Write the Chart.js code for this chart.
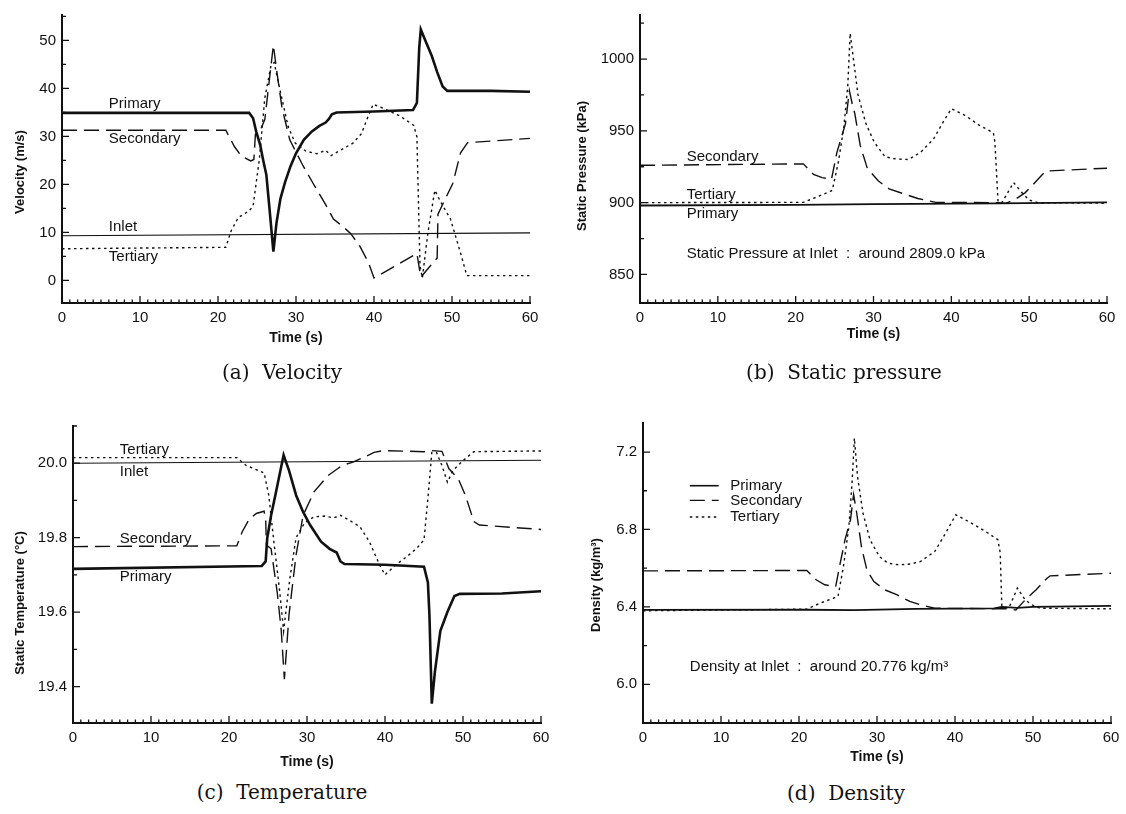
<!DOCTYPE html>
<html>
<head>
<meta charset="utf-8">
<script src="https://cdn.jsdelivr.net/npm/chart.js@4.4.0/dist/chart.umd.min.js"></script>
<style>
	body { margin: 0; background: #fff; width: 1126px; height: 814px; position: relative; overflow: hidden; }
	.panel { position: absolute; width: 563px; height: 380px; }
	.caption { position: absolute; font-family: 'DejaVu Serif', serif; font-size: 20px; color: #111; transform: translate(-50%, -50%); white-space: pre; }
</style>
</head>
<body>
<div class="panel" style="left:0;top:0"><canvas id="velocity"></canvas></div>
<div class="panel" style="left:563px;top:0"><canvas id="pressure"></canvas></div>
<div class="panel" style="left:0;top:395px"><canvas id="temperature"></canvas></div>
<div class="panel" style="left:563px;top:395px"><canvas id="density"></canvas></div>
<div class="caption" style="left:282px;top:372px">(a)  Velocity</div>
<div class="caption" style="left:844px;top:372px">(b)  Static pressure</div>
<div class="caption" style="left:282px;top:792px">(c)  Temperature</div>
<div class="caption" style="left:846px;top:793px">(d)  Density</div>
<script>
// tick labels
const timeTicks = [0, 10, 20, 30, 40, 50, 60];
const velocityTicks = [0, 10, 20, 30, 40, 50];
const pressureTicks = [850, 900, 950, 1000];
const temperatureTicks = [19.4, 19.6, 19.8, 20.0];
const densityTicks = [6.0, 6.4, 6.8, 7.2];

// [time (s), value] pairs
const velocityPrimary = [[0,34.9],[24,34.9],[24.5,33.8],[24.9,31],[25.4,28.3],[25.8,25],[26.2,22],[26.6,15],[27.1,6],[27.5,12],[28,17],[28.6,20.5],[29.3,23.8],[30,26.5],[31,29.3],[32,31],[33,32.2],[33.8,32.9],[34.2,33.6],[34.6,34.6],[35.2,35],[40,35.2],[45,35.5],[45.5,37],[45.8,48.5],[46,52.3],[46.7,49.5],[47.4,46.8],[48.1,43.4],[48.8,40.4],[49.4,39.5],[55,39.5],[60,39.3]];
const velocitySecondary = [[0,31.3],[21,31.3],[22.1,27.9],[23,25.9],[24.2,24.9],[24.6,25.2],[24.8,30.5],[25.4,31.2],[26,33.5],[26.6,42],[27.1,49],[27.5,44],[28.2,36],[29.2,29.3],[30.9,23.9],[32.2,20.2],[33.8,15.8],[34.8,12.8],[36.1,11.1],[37,9.8],[38.2,7.1],[39.3,3.7],[40,0.5],[45.5,5.6],[46,0.7],[48.1,4.7],[48.2,13.8],[49.2,17.2],[50.1,20.2],[51.1,26.6],[52,28.7],[60,29.6]];
const velocityTertiary = [[0,6.6],[21,6.9],[21.7,10.4],[22.6,13.1],[24,14.5],[24.5,15.5],[25.3,25.2],[26,38],[26.8,44.8],[27.2,45.4],[27.9,40],[29,32],[29.9,28.6],[31.3,26.9],[32.7,26.4],[33.8,27.1],[34.5,26],[35.9,27.3],[37.3,28.6],[38.4,30.6],[39.1,33.6],[39.9,36.7],[41.4,35.7],[43.3,34.3],[45.1,32.3],[45.5,29.9],[45.9,3],[46.2,0.5],[46.9,9.8],[47.8,18.8],[48.5,16.5],[49.8,12.8],[51.1,5.7],[51.9,1],[60,1]];
const velocityInlet = [[0,9.3],[60,9.9]];

const pressurePrimary = [[0,898],[20,898.5],[30,899],[46,899.5],[60,900.2]];
const pressureSecondary = [[0,926],[21,927],[22.3,919.6],[23.4,917.4],[24.6,916.3],[25.3,935],[26.4,955],[26.9,978],[27.3,968],[27.6,962],[28.3,939.7],[29.2,924],[30.6,915.2],[32,909.6],[33.8,906.3],[35.7,902.9],[38,900.2],[46,900],[47,899.5],[48.4,903],[49.5,907],[50.4,912],[52.1,922],[60,924]];
const pressureTertiary = [[0,900],[21,900.2],[23.2,905],[24.7,908.5],[25.5,928.6],[26.2,953],[26.7,982],[27,1018],[27.4,1001],[28,975.4],[29,955.4],[30.1,942],[31.5,931.9],[32.9,930.4],[34.5,930],[36.1,935.3],[37.7,944.2],[39.1,957.6],[40,965.4],[41.7,961],[43.5,954.2],[45.4,948.7],[45.6,942],[46,900.7],[46.5,900],[48,914],[49,907.4],[50,901.8],[51.1,900],[60,899.6]];

const temperaturePrimary = [[0,19.716],[24.2,19.724],[24.7,19.736],[24.9,19.798],[25.4,19.86],[26.1,19.93],[27,20.022],[27.7,19.98],[28.6,19.914],[29.5,19.869],[30.4,19.834],[31.8,19.789],[32.9,19.77],[33.8,19.76],[34.3,19.736],[34.8,19.729],[40,19.727],[45,19.722],[45.5,19.68],[45.7,19.59],[46,19.354],[46.4,19.44],[47.1,19.55],[48,19.6],[48.9,19.643],[49.6,19.649],[55,19.65],[60,19.656]];
const temperatureSecondary = [[0,19.776],[21,19.778],[21.7,19.816],[22.6,19.85],[23.5,19.865],[24.5,19.871],[24.7,19.85],[24.8,19.78],[25.4,19.77],[26.2,19.65],[26.7,19.55],[27.1,19.42],[27.7,19.594],[28.6,19.754],[29.5,19.86],[30.9,19.923],[32.7,19.967],[34.5,19.994],[35.9,20.003],[37.3,20.016],[38.6,20.029],[39.8,20.034],[45,20.031],[46,20.034],[47.3,20.032],[48.2,19.985],[49.4,19.958],[50.3,19.914],[51.4,19.843],[52.1,19.834],[60,19.822]];
const temperatureTertiary = [[0,20.015],[21,20.015],[22.2,19.994],[24.5,19.974],[25.1,19.914],[25.8,19.78],[26.5,19.656],[27,19.549],[27.2,19.585],[27.8,19.69],[28.6,19.8],[29.7,19.84],[30.9,19.856],[32.2,19.858],[33.4,19.853],[34.3,19.86],[35.4,19.847],[36.8,19.829],[38,19.789],[39.3,19.727],[40,19.7],[41.4,19.727],[42.8,19.749],[44.1,19.772],[45,19.794],[45.5,19.905],[46,20.029],[46.6,20.029],[47.3,19.994],[48,19.949],[48.7,19.98],[50,20.007],[51.4,20.031],[60,20.033]];
const temperatureInlet = [[0,20.0],[60,20.008]];

const densityPrimary = [[0,6.384],[21,6.385],[27,6.383],[35,6.39],[45,6.392],[46,6.4],[48,6.395],[50,6.4],[60,6.405]];
const densitySecondary = [[0,6.586],[21,6.588],[22.2,6.54],[23.3,6.514],[24.7,6.505],[25.2,6.609],[25.9,6.747],[26.6,6.85],[27,6.98],[27.4,6.885],[28,6.712],[28.7,6.591],[29.6,6.531],[31,6.488],[32.6,6.462],[34.2,6.428],[35.6,6.41],[37.4,6.393],[46.7,6.39],[47.8,6.384],[49,6.436],[50.4,6.488],[51.8,6.548],[52.2,6.56],[60,6.574]];
const densityTertiary = [[0,6.38],[21,6.388],[22.7,6.419],[25,6.454],[25.7,6.609],[26.4,6.816],[26.8,7.04],[27.1,7.272],[27.5,7.074],[28.2,6.885],[29.1,6.747],[30.3,6.66],[31.4,6.626],[32.8,6.617],[34.4,6.622],[35.6,6.635],[37.4,6.686],[38.8,6.781],[40.1,6.876],[42.1,6.833],[43.9,6.79],[45.5,6.747],[45.8,6.678],[46,6.405],[46.9,6.393],[48,6.497],[49,6.436],[49.9,6.41],[50.9,6.393],[60,6.39]];

Chart.defaults.font.family = "'Liberation Sans', Arial, sans-serif";
Chart.defaults.color = '#111';

const INK = '#111';

function primary(points, width) {
	return { label: 'Primary', data: points.map(p => ({x: p[0], y: p[1]})), borderColor: INK, borderWidth: width, borderDash: [] };
}
function secondary(points) {
	return { label: 'Secondary', data: points.map(p => ({x: p[0], y: p[1]})), borderColor: INK, borderWidth: 1.4, borderDash: [15, 7] };
}
function tertiary(points) {
	return { label: 'Tertiary', data: points.map(p => ({x: p[0], y: p[1]})), borderColor: INK, borderWidth: 1.4, borderDash: [2.5, 3.5] };
}
function inlet(points) {
	return { label: 'Inlet', data: points.map(p => ({x: p[0], y: p[1]})), borderColor: INK, borderWidth: 1.1, borderDash: [] };
}

// axis ticks pointing into the plot, axis titles, curve labels, notes and the legend
const decorations = {
	id: 'decorations',
	afterDraw(chart, args, opts) {
		const ctx = chart.ctx, area = chart.chartArea, x = chart.scales.x, y = chart.scales.y;
		ctx.save();
		ctx.strokeStyle = INK;
		ctx.fillStyle = INK;
		ctx.lineWidth = 1.3;
		ctx.beginPath();
		for (let t = 0; t <= 60; t++) {
			const px = x.getPixelForValue(t);
			const len = t % 10 === 0 ? 7 : 3.5;
			ctx.moveTo(px, area.bottom);
			ctx.lineTo(px, area.bottom - len);
		}
		const base = opts.yTicks[0], half = (opts.yTicks[1] - opts.yTicks[0]) / 2;
		for (let k = -20; k <= 20; k++) {
			const v = base + k * half;
			if (v < y.min - 1e-9 || v > y.max + 1e-9) continue;
			const py = y.getPixelForValue(v);
			ctx.moveTo(area.left, py);
			ctx.lineTo(area.left + (k % 2 === 0 ? 7 : 4), py);
		}
		ctx.stroke();

		ctx.textBaseline = 'middle';
		ctx.textAlign = 'center';
		ctx.font = "bold 14px 'Liberation Sans', Arial, sans-serif";
		ctx.fillText('Time (s)', (area.left + area.right) / 2, opts.xTitleY);
		ctx.save();
		ctx.translate(opts.yTitle.x, opts.yTitle.y);
		ctx.rotate(-Math.PI / 2);
		ctx.font = "bold 13px 'Liberation Sans', Arial, sans-serif";
		ctx.fillText(opts.yTitle.text, 0, 0);
		ctx.restore();

		ctx.textAlign = 'left';
		ctx.font = "15px 'Liberation Sans', Arial, sans-serif";
		(opts.labels || []).forEach(l => {
			ctx.fillText(l.text, x.getPixelForValue(l.t), y.getPixelForValue(l.v));
		});

		if (opts.legend) {
			const lg = opts.legend;
			chart.data.datasets.forEach((ds, i) => {
				const py = y.getPixelForValue(lg.rows[i]);
				ctx.save();
				ctx.lineWidth = Math.min(ds.borderWidth, 1.6);
				ctx.setLineDash(ds.borderDash);
				ctx.beginPath();
				ctx.moveTo(x.getPixelForValue(lg.lineFrom), py);
				ctx.lineTo(x.getPixelForValue(lg.lineTo), py);
				ctx.stroke();
				ctx.restore();
				ctx.fillText(ds.label, x.getPixelForValue(lg.textAt), py);
			});
		}
		ctx.restore();
	}
};

function makeChart(id, datasets, yRange, yTicks, frame, deco, decimals) {
	const H = 380, W = 563;
	return new Chart(document.getElementById(id), {
		type    : 'line',
		data    : { datasets: datasets },
		options : {
			responsive          : true,
			maintainAspectRatio : false,
			animation           : false,
			layout   : { padding: { left: 0, top: frame.top, right: W - frame.right, bottom: 0 } },
			elements : { point: { radius: 0 }, line: { tension: 0, borderCapStyle: 'butt' } },
			plugins  : { legend: { display: false }, tooltip: { enabled: false }, decorations: Object.assign({ yTicks: yTicks }, deco) },
			scales   : {
				x : {
					type   : 'linear', min: 0, max: 60,
					grid   : { display: false, drawTicks: false },
					border : { display: true, color: INK, width: 2 },
					ticks  : { padding: 6, font: { size: 15 }, maxRotation: 0 },
					afterBuildTicks : scale => { scale.ticks = timeTicks.map(v => ({ value: v })); },
					afterFit        : scale => { scale.height = H - frame.bottom; }
				},
				y : {
					type   : 'linear', min: yRange[0], max: yRange[1],
					grid   : { display: false, drawTicks: false },
					border : { display: true, color: INK, width: 2 },
					ticks  : { padding: 6, font: { size: 15 }, callback: v => v.toFixed(decimals) },
					afterBuildTicks : scale => { scale.ticks = yTicks.map(v => ({ value: v })); },
					afterFit        : scale => { scale.width = frame.left; }
				}
			}
		},
		plugins : [decorations]
	});
}

makeChart('velocity',
	[primary(velocityPrimary, 2.6), secondary(velocitySecondary), tertiary(velocityTertiary), inlet(velocityInlet)],
	[-4.7, 55.3], velocityTicks, { left: 62, right: 530, top: 7, bottom: 303 },
	{
		xTitleY : 338,
		yTitle  : { text: 'Velocity (m/s)', x: 20, y: 172 },
		labels  : [
			{ text: 'Primary', t: 6, v: 36.7 },
			{ text: 'Secondary', t: 6, v: 29.5 },
			{ text: 'Inlet', t: 6, v: 11.2 },
			{ text: 'Tertiary', t: 6, v: 4.95 }
		]
	}, 0);

makeChart('pressure',
	[primary(pressurePrimary, 1.8), secondary(pressureSecondary), tertiary(pressureTertiary)],
	[830.1, 1030.7], pressureTicks, { left: 77, right: 544, top: 4, bottom: 303 },
	{
		xTitleY : 334,
		yTitle  : { text: 'Static Pressure (kPa)', x: 19, y: 166 },
		labels  : [
			{ text: 'Secondary', t: 6, v: 932 },
			{ text: 'Tertiary', t: 6, v: 905.4 },
			{ text: 'Primary', t: 6, v: 892.4 },
			{ text: 'Static Pressure at Inlet  :  around 2809.0 kPa', t: 6, v: 864 }
		]
	}, 0);

makeChart('temperature',
	[primary(temperaturePrimary, 2.6), secondary(temperatureSecondary), tertiary(temperatureTertiary), inlet(temperatureInlet)],
	[19.302, 20.1], temperatureTicks, { left: 73, right: 541, top: 31, bottom: 328 },
	{
		xTitleY : 367,
		yTitle  : { text: 'Static Temperature (°C)', x: 20, y: 208 },
		labels  : [
			{ text: 'Tertiary', t: 6, v: 20.036 },
			{ text: 'Inlet', t: 6, v: 19.976 },
			{ text: 'Secondary', t: 6, v: 19.796 },
			{ text: 'Primary', t: 6, v: 19.694 }
		]
	}, 1);

makeChart('density',
	[primary(densityPrimary, 1.8), secondary(densitySecondary), tertiary(densityTertiary)],
	[5.8, 7.35], densityTicks, { left: 80, right: 548, top: 28, bottom: 328 },
	{
		xTitleY : 362,
		yTitle  : { text: 'Density (kg/m³)', x: 33, y: 190 },
		labels  : [
			{ text: 'Density at Inlet  :  around 20.776 kg/m³', t: 6, v: 6.091 }
		],
		legend  : { rows: [7.026, 6.95, 6.864], lineFrom: 6, lineTo: 9.7, textAt: 11.2 }
	}, 1);
</script>
</body>
</html>
